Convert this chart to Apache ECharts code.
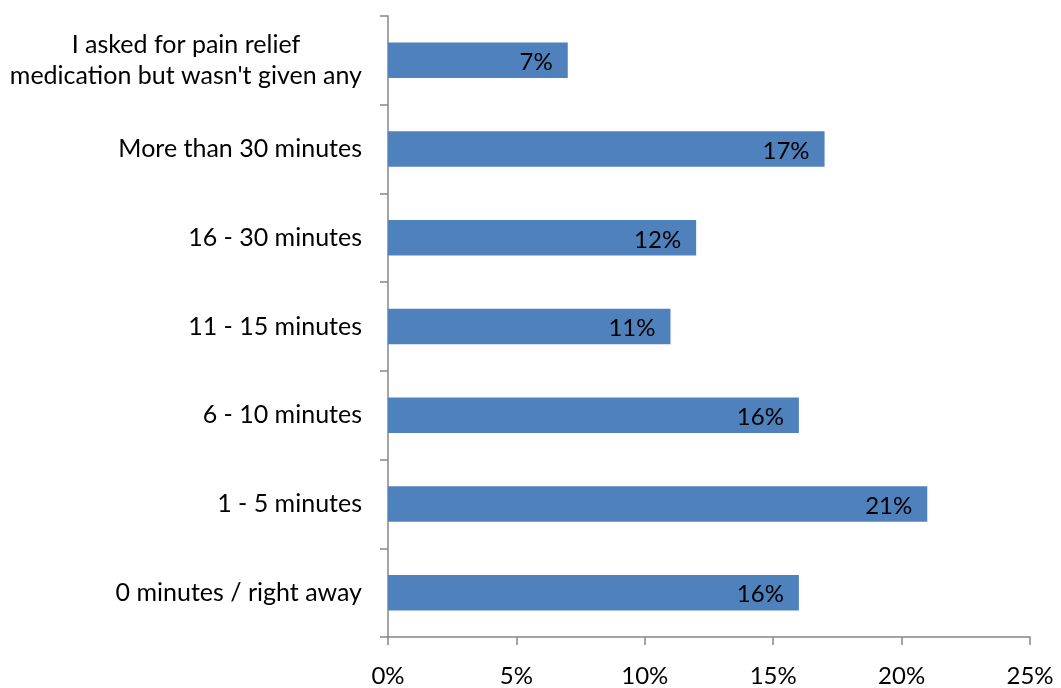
<!DOCTYPE html>
<html>
<head>
<meta charset="utf-8">
<style>
  html, body { margin: 0; padding: 0; background: #fff; overflow: hidden; }
  #chart { width: 1061px; height: 688px; }
</style>
<script src="https://cdn.jsdelivr.net/npm/echarts@6/dist/echarts.min.js"></script>
</head>
<body>
<div id="chart"></div>
<script>
// Waiting time for pain relief, share of respondents (bottom to top)
const categories = [
  '0 minutes / right away',
  '1 - 5 minutes',
  '6 - 10 minutes',
  '11 - 15 minutes',
  '16 - 30 minutes',
  'More than 30 minutes',
  "I asked for pain relief\nmedication but wasn't given any"
];
const values = [16, 21, 16, 11, 12, 17, 7];
const xTicks = { min: 0, max: 25, interval: 5 };

const FONT = 'Lato, "Open Sans", "Noto Sans", sans-serif';
const CAT_SIZE = 25;
const NUM_SIZE = 24;
const AXIS_GREY = '#868686';

// Width of the widest line of the wrapped labels, so they can be centred as a block
const ctx = document.createElement('canvas').getContext('2d');
ctx.font = CAT_SIZE + 'px ' + FONT;
let wrapWidth = 0;
categories.forEach(c => {
  if (c.includes('\n')) {
    c.split('\n').forEach(line => { wrapWidth = Math.max(wrapWidth, ctx.measureText(line).width); });
  }
});

const chart = echarts.init(document.getElementById('chart'), null, { renderer: 'canvas' });
chart.setOption({
  animation: false,
  backgroundColor: '#ffffff',
  grid: { left: 388, right: 31, top: 16, bottom: 47, containLabel: false },
  xAxis: {
    type: 'value',
    min: xTicks.min,
    max: xTicks.max,
    interval: xTicks.interval,
    axisLine: { show: true, lineStyle: { color: AXIS_GREY, width: 1.5 } },
    axisTick: { show: true, length: 8, lineStyle: { color: AXIS_GREY, width: 1.5 } },
    splitLine: { show: false },
    axisLabel: {
      formatter: v => v + '%',
      color: '#000',
      fontFamily: FONT,
      fontSize: NUM_SIZE,
      margin: 27
    }
  },
  yAxis: {
    type: 'category',
    data: categories,
    axisLine: { show: true, lineStyle: { color: AXIS_GREY, width: 1.5 } },
    axisTick: { show: true, length: 8, lineStyle: { color: AXIS_GREY, width: 1.5 } },
    axisLabel: {
      color: '#000',
      fontFamily: FONT,
      fontSize: CAT_SIZE,
      margin: 26,
      lineHeight: 31,
      align: 'right',
      formatter: v => v.includes('\n')
        ? v.split('\n').map(line => '{c|' + line + '}').join('\n')
        : v,
      rich: {
        c: {
          width: wrapWidth,
          align: 'center',
          color: '#000',
          fontFamily: FONT,
          fontSize: CAT_SIZE,
          lineHeight: 31
        }
      }
    }
  },
  series: [{
    type: 'bar',
    data: values,
    barWidth: '40%',
    itemStyle: { color: '#4F81BD' },
    label: {
      show: true,
      position: 'insideRight',
      distance: 15,
      offset: [0, 2],
      formatter: p => p.value + '%',
      color: '#000',
      fontFamily: FONT,
      fontSize: NUM_SIZE
    }
  }]
});
</script>
</body>
</html>
